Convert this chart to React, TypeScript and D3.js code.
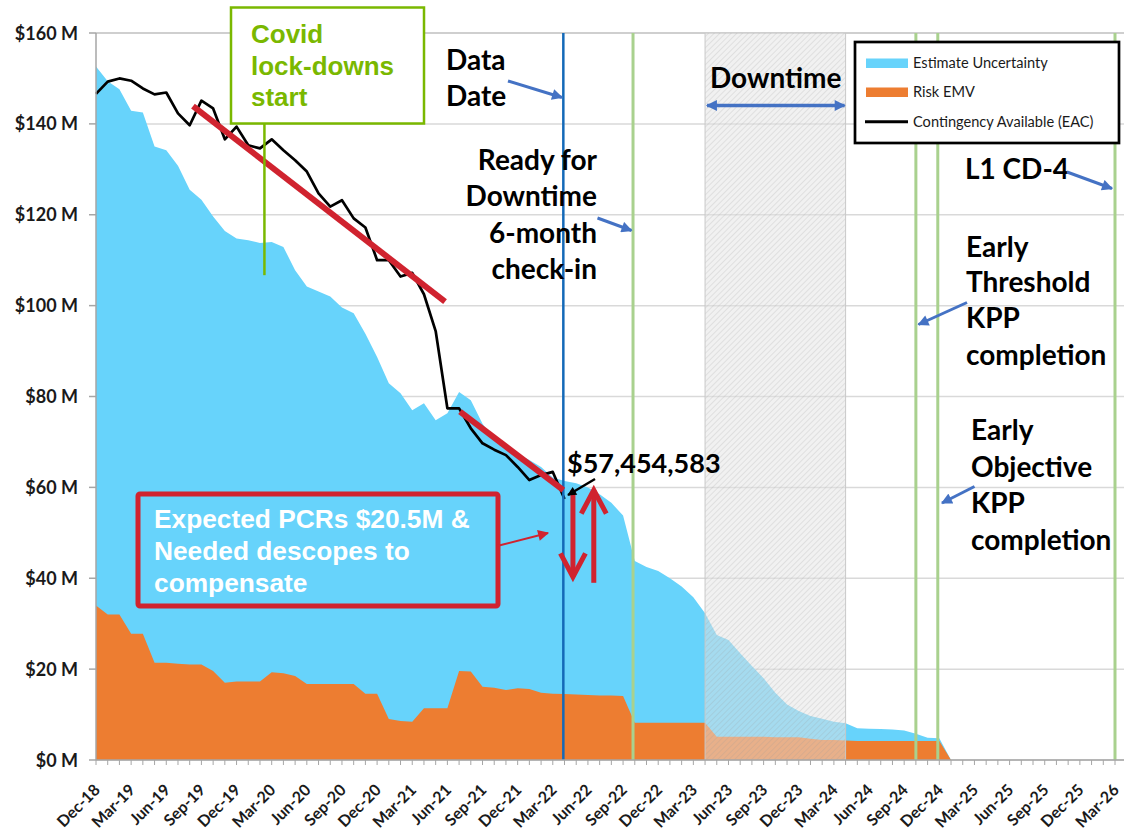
import React from 'react';
import * as d3 from 'd3';

// ---------- DATA (monthly, index 0 = Dec-18) ----------
const tickLabels = [
  'Dec-18', 'Mar-19', 'Jun-19', 'Sep-19', 'Dec-19', 'Mar-20', 'Jun-20', 'Sep-20',
  'Dec-20', 'Mar-21', 'Jun-21', 'Sep-21', 'Dec-21', 'Mar-22', 'Jun-22', 'Sep-22',
  'Dec-22', 'Mar-23', 'Jun-23', 'Sep-23', 'Dec-23', 'Mar-24', 'Jun-24', 'Sep-24',
  'Dec-24', 'Mar-25', 'Jun-25', 'Sep-25', 'Dec-25', 'Mar-26',
];

// Top of the blue area (Estimate Uncertainty stacked on Risk EMV), $M
const estimateUncertaintyTop = [
  152.6, 149.4, 147.6, 142.9, 142.5, 135.0, 134.2, 130.8, 125.5, 123.3,
  119.6, 116.4, 114.8, 114.4, 113.8, 114.0, 112.9, 107.8, 104.2, 103.1,
  102.0, 99.6, 98.3, 93.8, 88.7, 82.9, 80.7, 77.0, 78.5, 74.8,
  76.3, 81.0, 79.2, 74.0, 70.4, 68.9, 67.4, 66.0, 64.5, 62.2,
  61.4, 60.9, 60.0, 58.5, 56.6, 53.8, 43.8, 42.5, 41.6, 40.0,
  38.2, 35.8, 32.3, 27.5, 26.4, 23.5, 20.7, 18.0, 14.8, 12.2,
  10.8, 9.7, 9.1, 8.4, 8.1, 7.0, 6.9, 6.8, 6.7, 6.5,
  5.8, 4.9, 4.8, 0,
];

// Risk EMV, $M
const riskEMV = [
  34.0, 32.0, 32.0, 27.8, 27.8, 21.4, 21.4, 21.2, 21.0, 21.0,
  19.6, 17.0, 17.3, 17.3, 17.3, 19.3, 19.1, 18.5, 16.7, 16.7,
  16.7, 16.7, 16.7, 14.6, 14.6, 9.0, 8.6, 8.4, 11.4, 11.4,
  11.4, 19.6, 19.5, 16.1, 15.9, 15.4, 15.8, 15.6, 14.8, 14.6,
  14.5, 14.4, 14.3, 14.2, 14.2, 14.1, 8.2, 8.2, 8.2, 8.2,
  8.2, 8.2, 8.2, 5.1, 5.1, 5.1, 5.1, 5.1, 5.0, 5.0,
  5.0, 4.7, 4.4, 4.4, 4.3, 4.2, 4.2, 4.2, 4.2, 4.2,
  4.2, 4.2, 4.2, 0,
];

// Contingency Available (EAC), $M
const contingencyEAC = [
  146.6, 149.3, 150.0, 149.5, 147.8, 146.5, 146.9, 142.3, 139.7, 145.1,
  143.4, 136.6, 139.4, 135.3, 134.6, 136.6, 134.2, 132.0, 129.5, 124.7,
  121.8, 123.2, 119.2, 117.2, 110.0, 110.0, 106.4, 107.2, 102.5, 94.4,
  77.4, 77.4, 73.0, 69.7, 68.3, 67.1, 64.5, 61.6, 62.7, 63.4,
  57.45,
];

const yTicks = [0, 20, 40, 60, 80, 100, 120, 140, 160];

// milestones (month index)
const dataDate = 39.9;
const readyCheckin = 45.85;
const earlyThreshold = 70.0;
const earlyObjective = 71.87;
const cd4 = 87;
const downtime = [52, 64];
const covidStart = 14.38;

// trend lines [month, $M]
const trendLines = [
  [[8.28, 143.9], [29.8, 100.9]],
  [[31.08, 76.65], [39.9, 59.4]],
];
// PCR arrows: month, from $M, to $M
const pcrArrows = [
  { m: 40.72, from: 59.4, to: 40.3 },
  { m: 42.5, from: 39.0, to: 59.4 },
];

const BLUE = '#67d3fb';
const ORANGE = '#ed7d31';
const RED = '#d0232f';
const GREEN_LINE = '#a9d18e';
const COVID = '#7ab800';
const ARROW_BLUE = '#4472c4';
const CAL = "Lato, 'Open Sans', sans-serif";
const ARIAL = "'Liberation Sans', Arial, sans-serif";

export default function App() {
  const W = 1124, H = 836;
  const x = d3.scaleLinear().domain([0, 87]).range([96, 1115]);
  const y = d3.scaleLinear().domain([0, 160]).range([760, 33]);
  const xEnd = x(87.8);

  const area = d3.area<number>()
    .x((_, i) => x(i))
    .y0(y(0))
    .y1((d) => y(d));
  const line = d3.line<number>().x((_, i) => x(i)).y((d) => y(d));

  const monthTicks = d3.range(0, 88);

  const bigText = (t: string, tx: number, ty: number, anchor: string = 'start', size = 28) => (
    <text key={t + tx + ty} x={tx} y={ty} textAnchor={anchor} fontFamily={CAL} fontWeight={700} fontSize={size} fill="#000">{t}</text>
  );

  return (
    <svg width={W} height={H} style={{ position: 'absolute', left: 0, top: 0, background: '#fff' }}>
      <defs>
        <pattern id="hatch" patternUnits="userSpaceOnUse" width="4" height="4" patternTransform="rotate(45)">
          <rect width="4" height="4" fill="rgba(228,228,228,0.5)" />
          <line x1="0" y1="0" x2="0" y2="4" stroke="rgba(150,150,150,0.4)" strokeWidth="1" />
        </pattern>
        <marker id="blueHead" viewBox="0 0 10 10" refX="9" refY="5" markerUnits="userSpaceOnUse" markerWidth="13" markerHeight="11" orient="auto-start-reverse">
          <path d="M0,0 L10,5 L0,10 z" fill={ARROW_BLUE} />
        </marker>
        <marker id="redHead" viewBox="0 0 10 10" refX="9" refY="5" markerUnits="userSpaceOnUse" markerWidth="13" markerHeight="11" orient="auto">
          <path d="M0,0 L10,5 L0,10 z" fill={RED} />
        </marker>
        <marker id="blackHead" viewBox="0 0 10 10" refX="9" refY="5" markerUnits="userSpaceOnUse" markerWidth="10" markerHeight="9" orient="auto">
          <path d="M0,0 L10,5 L0,10 z" fill="#000" />
        </marker>
      </defs>
      <rect width={W} height={H} fill="#fff" />

      {/* gridlines */}
      {yTicks.map((t) => (
        <line key={'g' + t} x1={x(0)} x2={xEnd} y1={y(t)} y2={y(t)} stroke={t === 160 ? '#bfbfbf' : '#d9d9d9'} strokeWidth={1.5} />
      ))}

      {/* areas */}
      <path d={area(estimateUncertaintyTop) || ''} fill={BLUE} />
      <path d={area(riskEMV) || ''} fill={ORANGE} />

      {/* downtime overlay */}
      <rect x={x(downtime[0])} y={y(160)} width={x(downtime[1]) - x(downtime[0])} height={y(0) - y(160)} fill="url(#hatch)" />
      <line x1={x(downtime[0])} x2={x(downtime[0])} y1={y(160)} y2={y(0)} stroke="#c8c8c8" strokeWidth={1} />
      <line x1={x(downtime[1])} x2={x(downtime[1])} y1={y(160)} y2={y(0)} stroke="#c8c8c8" strokeWidth={1} />

      {/* contingency line */}
      <path d={line(contingencyEAC) || ''} fill="none" stroke="#000" strokeWidth={2.7} strokeLinejoin="round" />

      {/* milestone lines */}
      {[readyCheckin, earlyThreshold, earlyObjective, cd4].map((m) => (
        <line key={'m' + m} x1={x(m)} x2={x(m)} y1={y(160)} y2={y(0)} stroke={GREEN_LINE} strokeWidth={3} />
      ))}
      <line x1={x(dataDate)} x2={x(dataDate)} y1={y(160)} y2={y(0)} stroke="#1469b8" strokeWidth={2.5} />

      {/* axes */}
      <line x1={x(0)} x2={x(0)} y1={y(160)} y2={y(0)} stroke="#a6a6a6" strokeWidth={1.5} />
      <line x1={x(0)} x2={xEnd} y1={y(0)} y2={y(0)} stroke="#a6a6a6" strokeWidth={1.5} />
      {yTicks.map((t) => (
        <g key={'yt' + t}>
          <line x1={x(0) - 7} x2={x(0)} y1={y(t)} y2={y(t)} stroke="#a6a6a6" strokeWidth={1.5} />
          <text x={78} y={y(t) + 6.5} textAnchor="end" fontFamily={CAL} fontWeight={700} fontSize={18} fill="#1a1a1a">{`$${t} M`}</text>
        </g>
      ))}
      {monthTicks.map((m) => (
        <line key={'xt' + m} x1={x(m)} x2={x(m)} y1={y(0)} y2={y(0) + 5} stroke="#a6a6a6" strokeWidth={1} />
      ))}
      {tickLabels.map((lab, i) => {
        const px = x(i * 3) + 5;
        const py = 791;
        return (
          <text key={'xl' + lab} x={px} y={py} textAnchor="end" transform={`rotate(-45 ${px} ${py})`} fontFamily={CAL} fontWeight={700} fontSize={16} fill="#1a1a1a">{lab}</text>
        );
      })}

      {/* red trend lines */}
      {trendLines.map((tl, i) => (
        <line key={'tl' + i} x1={x(tl[0][0])} y1={y(tl[0][1])} x2={x(tl[1][0])} y2={y(tl[1][1])} stroke={RED} strokeWidth={6} />
      ))}

      {/* PCR arrows */}
      {pcrArrows.map((a, i) => {
        const ax = x(a.m);
        const y1 = y(a.from), y2 = y(a.to);
        const dir = y2 > y1 ? 1 : -1;
        return (
          <g key={'pa' + i}>
            <line x1={ax} x2={ax} y1={y1} y2={y2} stroke={RED} strokeWidth={5} />
            <polyline points={`${ax - 12.5},${y2 - dir * 23.5} ${ax},${y2} ${ax + 12.5},${y2 - dir * 23.5}`} fill="none" stroke={RED} strokeWidth={5} strokeLinejoin="miter" />
          </g>
        );
      })}

      {/* red callout box */}
      <rect x={138} y={494} width={360} height={112} fill="none" stroke={RED} strokeWidth={5} rx={2} />
      {['Expected PCRs $20.5M &', 'Needed descopes to', 'compensate'].map((t, i) => (
        <text key={'rb' + i} x={154} y={528 + i * 32} fontFamily={ARIAL} fontWeight={700} fontSize={26.3} fill="#fff">{t}</text>
      ))}
      <line x1={497} y1={546} x2={548} y2={533} stroke={RED} strokeWidth={2} markerEnd="url(#redHead)" />

      {/* covid box */}
      <line x1={x(covidStart)} x2={x(covidStart)} y1={y(140)} y2={y(106.7)} stroke={COVID} strokeWidth={2.5} />
      <rect x={231} y={7.5} width={193} height={116} fill="#fff" stroke={COVID} strokeWidth={2.5} />
      {['Covid', 'lock-downs', 'start'].map((t, i) => (
        <text key={'cv' + i} x={251} y={43 + i * 31.7} fontFamily={ARIAL} fontWeight={700} fontSize={26} fill={COVID}>{t}</text>
      ))}

      {/* value label */}
      {bigText('$57,454,583', 567, 473, 'start', 27)}
      <line x1={595} y1={479} x2={568} y2={495} stroke="#000" strokeWidth={2.5} markerEnd="url(#blackHead)" />

      {/* text annotations */}
      {bigText('Data', 446, 70)}
      {bigText('Date', 446, 106)}
      <line x1={508} y1={81} x2={562} y2={97.5} stroke={ARROW_BLUE} strokeWidth={3} markerEnd="url(#blueHead)" />

      {bigText('Downtime', 710, 88, 'start', 28)}
      <line x1={x(downtime[0]) + 2} x2={x(downtime[1]) - 1} y1={105.5} y2={105.5} stroke={ARROW_BLUE} strokeWidth={3.5} markerStart="url(#blueHead)" markerEnd="url(#blueHead)" />

      {bigText('Ready for', 597, 170, 'end')}
      {bigText('Downtime', 597, 206, 'end')}
      {bigText('6-month', 597, 243, 'end')}
      {bigText('check-in', 597, 279, 'end')}
      <line x1={597.5} y1={218} x2={631.5} y2={230.5} stroke={ARROW_BLUE} strokeWidth={3} markerEnd="url(#blueHead)" />

      {bigText('L1 CD-4', 965, 179)}
      <line x1={1067} y1={172} x2={1112} y2={188.5} stroke={ARROW_BLUE} strokeWidth={3} markerEnd="url(#blueHead)" />

      {bigText('Early', 966, 257)}
      {bigText('Threshold', 966, 292)}
      {bigText('KPP', 966, 328)}
      {bigText('completion', 966, 365)}
      <line x1={967} y1={302.5} x2={918.5} y2={324.5} stroke={ARROW_BLUE} strokeWidth={3} markerEnd="url(#blueHead)" />

      {bigText('Early', 971, 440)}
      {bigText('Objective', 971, 477)}
      {bigText('KPP', 971, 513)}
      {bigText('completion', 971, 550)}
      <line x1={974.5} y1={486.5} x2={942} y2={503} stroke={ARROW_BLUE} strokeWidth={3} markerEnd="url(#blueHead)" />

      {/* legend */}
      <rect x={855} y={42} width={264} height={101} fill="#fff" stroke="#000" strokeWidth={2.7} />
      <rect x={866} y={58.5} width={42} height={9.5} fill={BLUE} />
      <rect x={866} y={87.5} width={42} height={9.5} fill={ORANGE} />
      <line x1={865} x2={908} y1={121.7} y2={121.7} stroke="#000" strokeWidth={3} />
      <text x={913} y={68} fontFamily={CAL} fontSize={14.6} fill="#1a1a1a">Estimate Uncertainty</text>
      <text x={913} y={97} fontFamily={CAL} fontSize={14.6} fill="#1a1a1a">Risk EMV</text>
      <text x={913} y={126.5} fontFamily={CAL} fontSize={14.6} fill="#1a1a1a">Contingency Available (EAC)</text>
    </svg>
  );
}
